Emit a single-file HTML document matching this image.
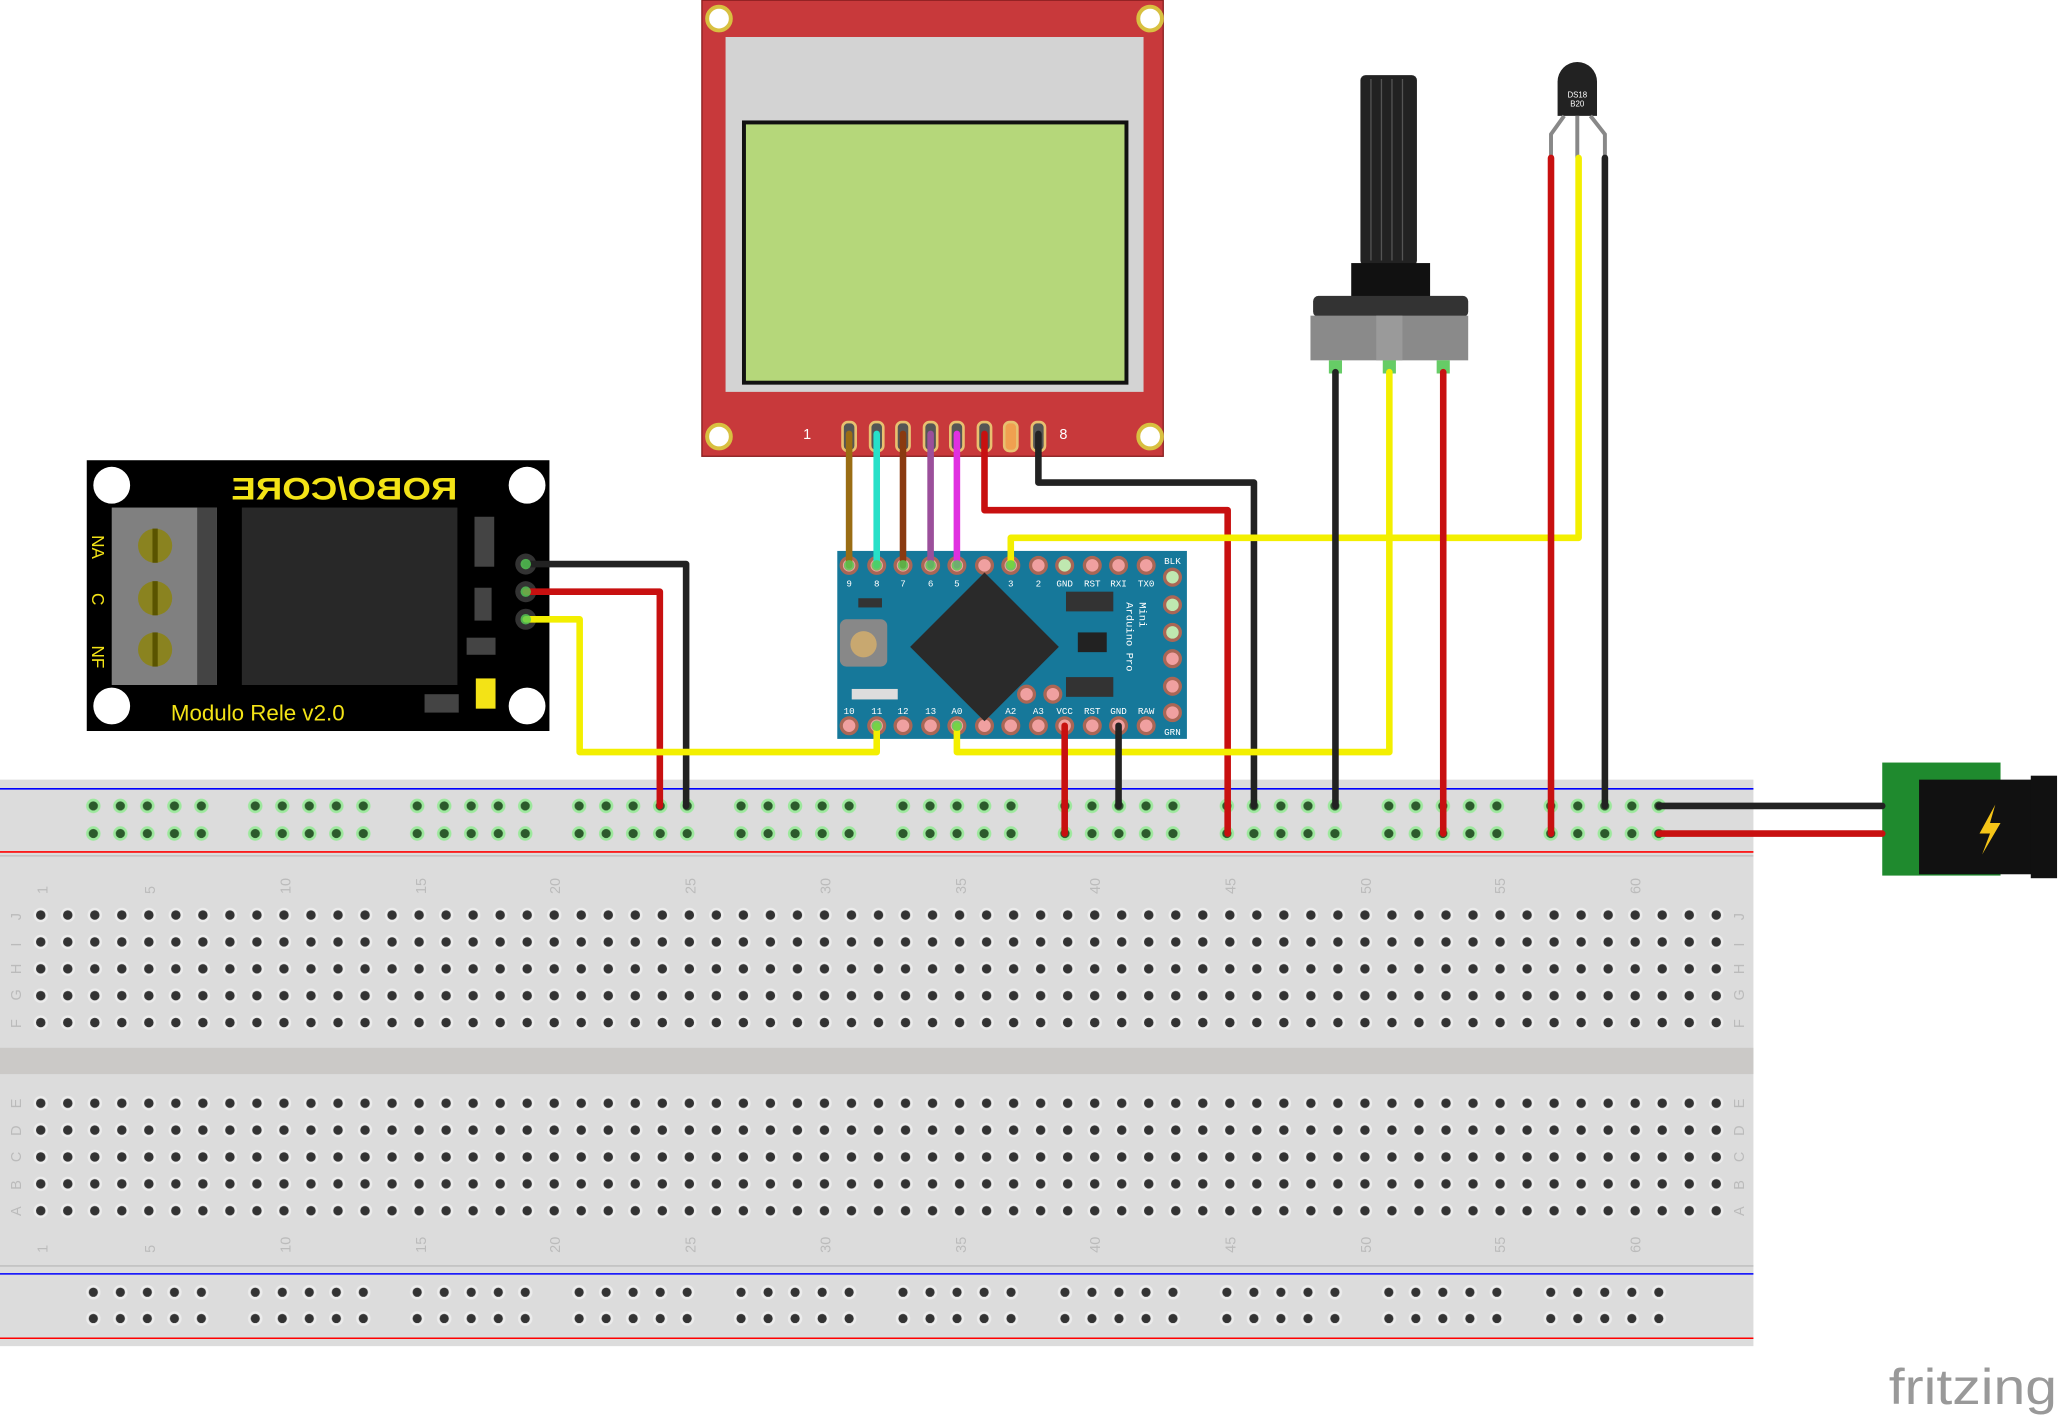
<!DOCTYPE html>
<html><head><meta charset="utf-8"><style>html,body{margin:0;padding:0;background:#fff}svg{display:block}</style></head>
<body>
<svg width="2061" height="1416" viewBox="0 0 1568 1077" xmlns="http://www.w3.org/2000/svg" font-family="Liberation Sans, sans-serif">
<defs>
<pattern id="mh" x="20.7" y="685.8" width="20.56" height="20.45" patternUnits="userSpaceOnUse">
<circle cx="10.3" cy="10.2" r="5.5" fill="#ececec"/><circle cx="10.3" cy="10.2" r="3.6" fill="#333"/></pattern>
<pattern id="rg" x="60.7" y="602.5" width="123.2" height="21" patternUnits="userSpaceOnUse">
<g><circle cx="10.3" cy="10.5" r="5.5" fill="#9de89d"/><circle cx="10.3" cy="10.5" r="3.5" fill="#2c5a2c"/>
<circle cx="30.86" cy="10.5" r="5.5" fill="#9de89d"/><circle cx="30.86" cy="10.5" r="3.5" fill="#2c5a2c"/>
<circle cx="51.4" cy="10.5" r="5.5" fill="#9de89d"/><circle cx="51.4" cy="10.5" r="3.5" fill="#2c5a2c"/>
<circle cx="72" cy="10.5" r="5.5" fill="#9de89d"/><circle cx="72" cy="10.5" r="3.5" fill="#2c5a2c"/>
<circle cx="92.5" cy="10.5" r="5.5" fill="#9de89d"/><circle cx="92.5" cy="10.5" r="3.5" fill="#2c5a2c"/></g></pattern>
<pattern id="rb" x="60.7" y="972.5" width="123.2" height="20" patternUnits="userSpaceOnUse">
<g><circle cx="10.3" cy="10.5" r="5.5" fill="#ececec"/><circle cx="10.3" cy="10.5" r="3.5" fill="#333"/>
<circle cx="30.86" cy="10.5" r="5.5" fill="#ececec"/><circle cx="30.86" cy="10.5" r="3.5" fill="#333"/>
<circle cx="51.4" cy="10.5" r="5.5" fill="#ececec"/><circle cx="51.4" cy="10.5" r="3.5" fill="#333"/>
<circle cx="72" cy="10.5" r="5.5" fill="#ececec"/><circle cx="72" cy="10.5" r="3.5" fill="#333"/>
<circle cx="92.5" cy="10.5" r="5.5" fill="#ececec"/><circle cx="92.5" cy="10.5" r="3.5" fill="#333"/></g></pattern>
</defs>

<!-- breadboard -->
<rect x="0" y="593" width="1334" height="431" fill="#dcdcdc"/>
<line x1="0" y1="600" x2="1334" y2="600" stroke="#0000ff" stroke-width="1.2"/>
<line x1="0" y1="648" x2="1334" y2="648" stroke="#ff0000" stroke-width="1.2"/>
<line x1="0" y1="651" x2="1334" y2="651" stroke="#bbb" stroke-width="1"/>
<rect x="60.7" y="602" width="1210" height="42" fill="url(#rg)"/>
<rect x="20" y="686" width="1295" height="102" fill="url(#mh)"/>
<rect x="0" y="797" width="1334" height="20" fill="#cbc9c7"/>
<rect x="20" y="829" width="1295" height="102" fill="url(#mh)"/>
<line x1="0" y1="963" x2="1334" y2="963" stroke="#bbb" stroke-width="1"/>
<line x1="0" y1="969" x2="1334" y2="969" stroke="#0000ff" stroke-width="1.2"/>
<line x1="0" y1="1018" x2="1334" y2="1018" stroke="#ff0000" stroke-width="1.2"/>
<rect x="60.7" y="972" width="1210" height="42" fill="url(#rb)"/>
<g fill="#bbb" font-size="11">
<g transform="translate(36,680) rotate(-90)"><text>1</text></g>
<g transform="translate(118,680) rotate(-90)"><text>5</text></g>
<g transform="translate(221,680) rotate(-90)"><text>10</text></g>
<g transform="translate(324,680) rotate(-90)"><text>15</text></g>
<g transform="translate(426,680) rotate(-90)"><text>20</text></g>
<g transform="translate(529,680) rotate(-90)"><text>25</text></g>
<g transform="translate(632,680) rotate(-90)"><text>30</text></g>
<g transform="translate(735,680) rotate(-90)"><text>35</text></g>
<g transform="translate(837,680) rotate(-90)"><text>40</text></g>
<g transform="translate(940,680) rotate(-90)"><text>45</text></g>
<g transform="translate(1043,680) rotate(-90)"><text>50</text></g>
<g transform="translate(1145,680) rotate(-90)"><text>55</text></g>
<g transform="translate(1248,680) rotate(-90)"><text>60</text></g>
<g transform="translate(36,953) rotate(-90)"><text>1</text></g>
<g transform="translate(118,953) rotate(-90)"><text>5</text></g>
<g transform="translate(221,953) rotate(-90)"><text>10</text></g>
<g transform="translate(324,953) rotate(-90)"><text>15</text></g>
<g transform="translate(426,953) rotate(-90)"><text>20</text></g>
<g transform="translate(529,953) rotate(-90)"><text>25</text></g>
<g transform="translate(632,953) rotate(-90)"><text>30</text></g>
<g transform="translate(735,953) rotate(-90)"><text>35</text></g>
<g transform="translate(837,953) rotate(-90)"><text>40</text></g>
<g transform="translate(940,953) rotate(-90)"><text>45</text></g>
<g transform="translate(1043,953) rotate(-90)"><text>50</text></g>
<g transform="translate(1145,953) rotate(-90)"><text>55</text></g>
<g transform="translate(1248,953) rotate(-90)"><text>60</text></g>
<g transform="translate(16,700) rotate(-90)"><text>J</text></g>
<g transform="translate(16,720) rotate(-90)"><text>I</text></g>
<g transform="translate(16,741) rotate(-90)"><text>H</text></g>
<g transform="translate(16,761) rotate(-90)"><text>G</text></g>
<g transform="translate(16,782) rotate(-90)"><text>F</text></g>
<g transform="translate(16,843) rotate(-90)"><text>E</text></g>
<g transform="translate(16,864) rotate(-90)"><text>D</text></g>
<g transform="translate(16,884) rotate(-90)"><text>C</text></g>
<g transform="translate(16,905) rotate(-90)"><text>B</text></g>
<g transform="translate(16,925) rotate(-90)"><text>A</text></g>
<g transform="translate(1327,700) rotate(-90)"><text>J</text></g>
<g transform="translate(1327,720) rotate(-90)"><text>I</text></g>
<g transform="translate(1327,741) rotate(-90)"><text>H</text></g>
<g transform="translate(1327,761) rotate(-90)"><text>G</text></g>
<g transform="translate(1327,782) rotate(-90)"><text>F</text></g>
<g transform="translate(1327,843) rotate(-90)"><text>E</text></g>
<g transform="translate(1327,864) rotate(-90)"><text>D</text></g>
<g transform="translate(1327,884) rotate(-90)"><text>C</text></g>
<g transform="translate(1327,905) rotate(-90)"><text>B</text></g>
<g transform="translate(1327,925) rotate(-90)"><text>A</text></g>
</g>

<!-- LCD -->
<rect x="534" y="0" width="351" height="347" fill="#c8393b" stroke="#8a1f20"/>
<rect x="552" y="28" width="318" height="270" fill="#d3d3d3"/>
<rect x="566" y="93" width="291" height="198" fill="#b5d77a" stroke="#111" stroke-width="3"/>
<g fill="#fff" stroke="#d8c040" stroke-width="3">
<circle cx="547" cy="14" r="9"/><circle cx="875" cy="14" r="9"/><circle cx="547" cy="332" r="9"/><circle cx="875" cy="332" r="9"/></g>
<text x="611" y="334" fill="#fff" font-size="11">1</text><text x="806" y="334" fill="#fff" font-size="11">8</text>
<g fill="#555" stroke="#e8c070" stroke-width="2">
<rect x="641" y="321" width="10" height="22" rx="4"/><rect x="662" y="321" width="10" height="22" rx="4"/><rect x="682" y="321" width="10" height="22" rx="4"/><rect x="703" y="321" width="10" height="22" rx="4"/><rect x="723" y="321" width="10" height="22" rx="4"/><rect x="744" y="321" width="10" height="22" rx="4"/><rect x="764" y="321" width="10" height="22" rx="4" fill="#f0a050"/><rect x="785" y="321" width="10" height="22" rx="4"/></g>

<!-- Arduino -->
<rect x="637" y="419" width="266" height="143" fill="#16789a"/>
<g fill="#f0a0a0" stroke="#a65" stroke-width="2.5">
<circle cx="646" cy="430" r="6"/><circle cx="667" cy="430" r="6"/><circle cx="687" cy="430" r="6"/><circle cx="708" cy="430" r="6"/><circle cx="728" cy="430" r="6"/><circle cx="749" cy="430" r="6"/><circle cx="769" cy="430" r="6"/><circle cx="790" cy="430" r="6"/><circle cx="810" cy="430" r="6" fill="#bfe8b0"/><circle cx="831" cy="430" r="6"/><circle cx="851" cy="430" r="6"/><circle cx="872" cy="430" r="6"/>
<circle cx="646" cy="552" r="6"/><circle cx="667" cy="552" r="6"/><circle cx="687" cy="552" r="6"/><circle cx="708" cy="552" r="6"/><circle cx="728" cy="552" r="6"/><circle cx="749" cy="552" r="6"/><circle cx="769" cy="552" r="6"/><circle cx="790" cy="552" r="6"/><circle cx="810" cy="552" r="6"/><circle cx="831" cy="552" r="6"/><circle cx="851" cy="552" r="6"/><circle cx="872" cy="552" r="6"/>
<circle cx="892" cy="439" r="6" fill="#bfe8b0"/><circle cx="892" cy="460" r="6" fill="#bfe8b0"/><circle cx="892" cy="481" r="6" fill="#bfe8b0"/><circle cx="892" cy="501" r="6"/><circle cx="892" cy="522" r="6"/><circle cx="892" cy="542" r="6"/>
<circle cx="781" cy="528" r="6"/><circle cx="801" cy="528" r="6"/></g>
<g fill="#fff" font-size="7" font-family="Liberation Mono, monospace" text-anchor="middle">
<text x="646" y="446">9</text><text x="667" y="446">8</text><text x="687" y="446">7</text><text x="708" y="446">6</text><text x="728" y="446">5</text><text x="749" y="446">4</text><text x="769" y="446">3</text><text x="790" y="446">2</text><text x="810" y="446">GND</text><text x="831" y="446">RST</text><text x="851" y="446">RXI</text><text x="872" y="446">TX0</text><text x="892" y="429">BLK</text><text x="892" y="559">GRN</text>
<text x="646" y="543">10</text><text x="667" y="543">11</text><text x="687" y="543">12</text><text x="708" y="543">13</text><text x="728" y="543">A0</text><text x="749" y="543">A1</text><text x="769" y="543">A2</text><text x="790" y="543">A3</text><text x="810" y="543">VCC</text><text x="831" y="543">RST</text><text x="851" y="543">GND</text><text x="872" y="543">RAW</text></g>
<rect x="709" y="452" width="80" height="80" fill="#2a2a2a" transform="rotate(45 749 492)"/>
<rect x="639" y="471" width="36" height="36" rx="5" fill="#888"/><circle cx="657" cy="490" r="10" fill="#c8a870"/>
<rect x="811" y="450" width="36" height="15" fill="#333"/><rect x="811" y="515" width="36" height="15" fill="#333"/>
<rect x="820" y="481" width="22" height="15" fill="#222"/>
<rect x="653" y="455" width="18" height="7" fill="#333"/><rect x="648" y="524" width="35" height="8" fill="#ddd"/>
<g transform="translate(857,458) rotate(90)" fill="#fff" font-size="8" font-family="Liberation Mono, monospace"><text>Arduino Pro</text><text y="-10">Mini</text></g>

<!-- Relay -->
<rect x="66" y="350" width="352" height="206" fill="#000"/>
<g fill="#fff"><circle cx="85" cy="369" r="14"/><circle cx="401" cy="369" r="14"/><circle cx="85" cy="537" r="14"/><circle cx="401" cy="537" r="14"/></g>
<rect x="85" y="386" width="80" height="135" fill="#808080"/><rect x="150" y="386" width="15" height="135" fill="#444"/>
<g fill="#8a8320"><circle cx="118" cy="415" r="13"/><circle cx="118" cy="455" r="13"/><circle cx="118" cy="494" r="13"/></g>
<g stroke="#5a5400" stroke-width="4"><line x1="118" y1="402" x2="118" y2="428"/><line x1="118" y1="442" x2="118" y2="468"/><line x1="118" y1="481" x2="118" y2="507"/></g>
<rect x="184" y="386" width="164" height="135" fill="#282828"/>
<rect x="361" y="393" width="15" height="38" fill="#444"/><rect x="361" y="447" width="13" height="25" fill="#444"/><rect x="355" y="485" width="22" height="13" fill="#444"/><rect x="323" y="528" width="26" height="14" fill="#444"/>
<rect x="362" y="516" width="15" height="23" fill="#f3e316"/>
<g fill="#f3e316">
<text x="130" y="548" font-size="17">Modulo Rele v2.0</text>
<g transform="translate(348,380) scale(-1,1)"><text x="0" y="0" font-size="24" font-weight="bold" textLength="172" lengthAdjust="spacingAndGlyphs">ROBO/CORE</text></g>
<g transform="translate(70,407) rotate(90)" font-size="13"><text x="0">NA</text><text x="44">C</text><text x="84">NF</text></g>
</g>
<g fill="#333"><circle cx="400" cy="429" r="8"/><circle cx="400" cy="450" r="8"/><circle cx="400" cy="471" r="8"/></g>

<!-- Potentiometer -->
<rect x="1035" y="57" width="43" height="145" rx="4" fill="#222"/>
<g stroke="#555" stroke-width="1"><line x1="1043" y1="60" x2="1043" y2="198"/><line x1="1051" y1="60" x2="1051" y2="198"/><line x1="1059" y1="60" x2="1059" y2="198"/><line x1="1067" y1="60" x2="1067" y2="198"/></g>
<rect x="1028" y="200" width="60" height="26" fill="#111"/>
<rect x="999" y="225" width="118" height="16" rx="4" fill="#333"/>
<rect x="997" y="240" width="120" height="34" fill="#8a8a8a"/><rect x="1047" y="240" width="20" height="34" fill="#9a9a9a"/>
<rect x="1011" y="274" width="10" height="10" fill="#6c6"/><rect x="1052" y="274" width="10" height="10" fill="#6c6"/><rect x="1093" y="274" width="10" height="10" fill="#6c6"/>

<!-- DS18B20 -->
<path d="M1185,88 L1185,62 A15,15 0 0 1 1215,62 L1215,88 Z" fill="#222"/>
<text x="1200" y="74" font-size="6" fill="#fff" text-anchor="middle">DS18</text><text x="1200" y="81" font-size="6" fill="#fff" text-anchor="middle">B20</text>
<g stroke="#888" stroke-width="3" fill="none"><path d="M1190,88 L1180,102 L1180,120"/><path d="M1200,88 L1200,120"/><path d="M1210,88 L1221,102 L1221,120"/></g>

<!-- Power jack -->
<rect x="1432" y="580" width="90" height="86" fill="#1f8a2e"/>
<rect x="1460" y="593" width="92" height="72" fill="#111"/><rect x="1545" y="590" width="20" height="78" fill="#111"/>
<path d="M1518,612 L1506,634 L1514,634 L1508,650 L1522,626 L1514,626 Z" fill="#f5c518"/>

<!-- wires -->
<g fill="none" stroke-width="5" stroke-linejoin="round" stroke-linecap="round">
<path d="M400,429 H522 V613" stroke="#222"/>
<path d="M400,450 H502 V613" stroke="#c81010"/>
<path d="M400,471 H441 V572 H667 V552" stroke="#f3ef00"/>
<path d="M646,330 V430" stroke="#9a6d14"/>
<path d="M667,330 V430" stroke="#27e0c8"/>
<path d="M687,330 V430" stroke="#8a3a10"/>
<path d="M708,330 V430" stroke="#9b4f9b"/>
<path d="M728,330 V430" stroke="#e030e0"/>
<path d="M749,330 V388 H934 V634" stroke="#c81010"/>
<path d="M790,330 V367 H954 V613" stroke="#222"/>
<path d="M769,430 V409 H1201 V120" stroke="#f3ef00"/>
<path d="M728,552 V572 H1057 V283" stroke="#f3ef00"/>
<path d="M810,552 V634" stroke="#c81010"/>
<path d="M851,552 V613" stroke="#222"/>
<path d="M1016,283 V613" stroke="#222"/>
<path d="M1098,283 V634" stroke="#c81010"/>
<path d="M1180,120 V634" stroke="#c81010"/>
<path d="M1221,120 V613" stroke="#222"/>
<path d="M1262,613 H1432" stroke="#222"/>
<path d="M1262,634 H1432" stroke="#c81010"/>
</g>
<g fill="#5c5" opacity="0.8">
<circle cx="646" cy="430" r="4"/><circle cx="667" cy="430" r="4"/><circle cx="687" cy="430" r="4"/><circle cx="708" cy="430" r="4"/><circle cx="728" cy="430" r="4"/><circle cx="769" cy="430" r="4"/><circle cx="667" cy="552" r="4"/><circle cx="728" cy="552" r="4"/><circle cx="400" cy="429" r="4"/><circle cx="400" cy="450" r="4"/><circle cx="400" cy="471" r="4"/>
</g>

<text x="1437" y="1068" font-size="38" fill="#999" textLength="128" lengthAdjust="spacingAndGlyphs">fritzing</text>
</svg>
</body></html>
